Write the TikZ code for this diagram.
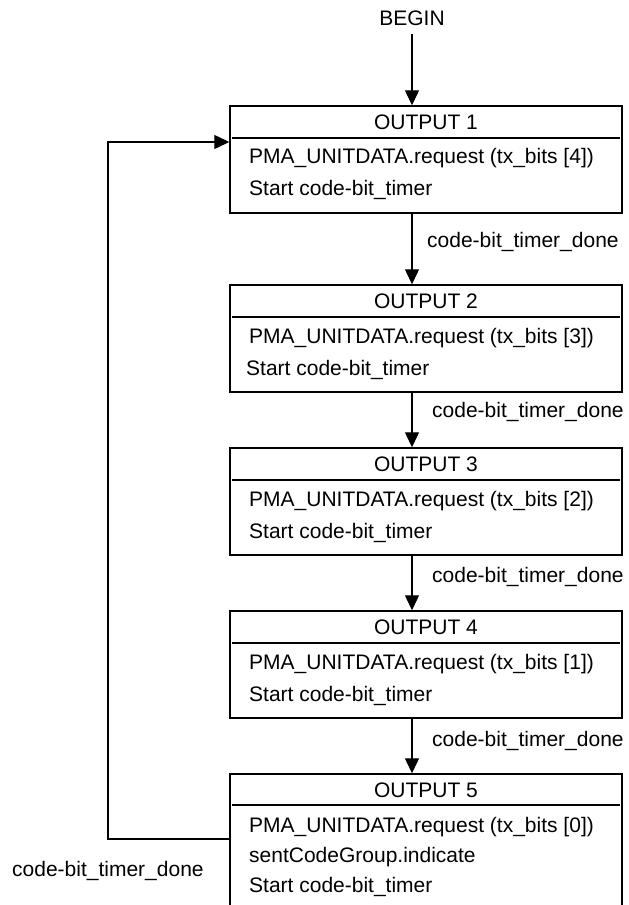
\documentclass[tikz,border=0pt]{standalone}
\usepackage{fontspec}
\setmainfont{Liberation Sans}
\usetikzlibrary{arrows.meta}
\begin{document}
\begin{tikzpicture}[x=1pt,y=-1pt,
  txt/.style={font=\fontsize{21}{25}\selectfont, inner sep=0pt},
  box/.style={draw, line width=1.4pt, minimum width=392pt, inner sep=0pt},
  hline/.style={line width=1.4pt},
  conn/.style={line width=1.2pt, -{Triangle[length=15pt,width=14pt]}},
]
\useasboundingbox (0,0) rectangle (629,905);
\clip (0,0) rectangle (629,905);
% boxes
\node[box, minimum height=107pt] (b1) at (426,159.5) {};
\node[box, minimum height=107pt] (b2) at (426,338.5) {};
\node[box, minimum height=107pt] (b3) at (426,501.5) {};
\node[box, minimum height=107pt] (b4) at (426,664.5) {};
\node[box, minimum height=140pt] (b5) at (426,844) {};
% header lines
\draw[hline] (232,138) -- (620,138);
\draw[hline] (232,317) -- (620,317);
\draw[hline] (232,480) -- (620,480);
\draw[hline] (232,643) -- (620,643);
\draw[hline] (232,805) -- (620,805);
% titles
\node[txt] (t1) at (426,122) {OUTPUT 1};
\node[txt] (t2) at (426,301) {OUTPUT 2};
\node[txt] (t3) at (426,464) {OUTPUT 3};
\node[txt] (t4) at (426,627) {OUTPUT 4};
\node[txt] (t5) at (426,790) {OUTPUT 5};
% bodies
\node[txt, anchor=west] (p1) at (249,158) {PMA\_UNITDATA.request (tx\_bits [4])};
\node[txt, anchor=west] (s1) at (249,190) {Start code-bit\_timer};
\node[txt, anchor=west] (p2) at (249,338) {PMA\_UNITDATA.request (tx\_bits [3])};
\node[txt, anchor=west] (s2) at (246,370) {Start code-bit\_timer};
\node[txt, anchor=west] (p3) at (249,501) {PMA\_UNITDATA.request (tx\_bits [2])};
\node[txt, anchor=west] (s3) at (249,533) {Start code-bit\_timer};
\node[txt, anchor=west] (p4) at (249,664) {PMA\_UNITDATA.request (tx\_bits [1])};
\node[txt, anchor=west] (s4) at (249,696) {Start code-bit\_timer};
\node[txt, anchor=west] (p5) at (249,827) {PMA\_UNITDATA.request (tx\_bits [0])};
\node[txt, anchor=west] (g5) at (249,857) {sentCodeGroup.indicate};
\node[txt, anchor=west] (s5) at (249,887) {Start code-bit\_timer};
% begin
\node[txt] (begin) at (412,18) {BEGIN};
\draw[conn] (begin.south) ++(0,8) -- (b1.north -| begin);
\draw[conn] (b1.south -| begin) -- (b2.north -| begin);
\draw[conn] (b2.south -| begin) -- (b3.north -| begin);
\draw[conn] (b3.south -| begin) -- (b4.north -| begin);
\draw[conn] (b4.south -| begin) -- (b5.north -| begin);
% arrow labels
\node[txt, anchor=west] (l1) at (427,242) {code-bit\_timer\_done};
\node[txt, anchor=west] (l2) at (432,412) {code-bit\_timer\_done};
\node[txt, anchor=west] (l3) at (432,577) {code-bit\_timer\_done};
\node[txt, anchor=west] (l4) at (432,741) {code-bit\_timer\_done};
% feedback
\coordinate (fbout) at (0,839);
\coordinate (fbcorner) at (108,142);
\draw[conn] (b5.west |- fbout) -| (fbcorner) -- (b1.west |- fbcorner);
\node[txt, anchor=west] (l5) at (12,871) {code-bit\_timer\_done};
\end{tikzpicture}
\end{document}
